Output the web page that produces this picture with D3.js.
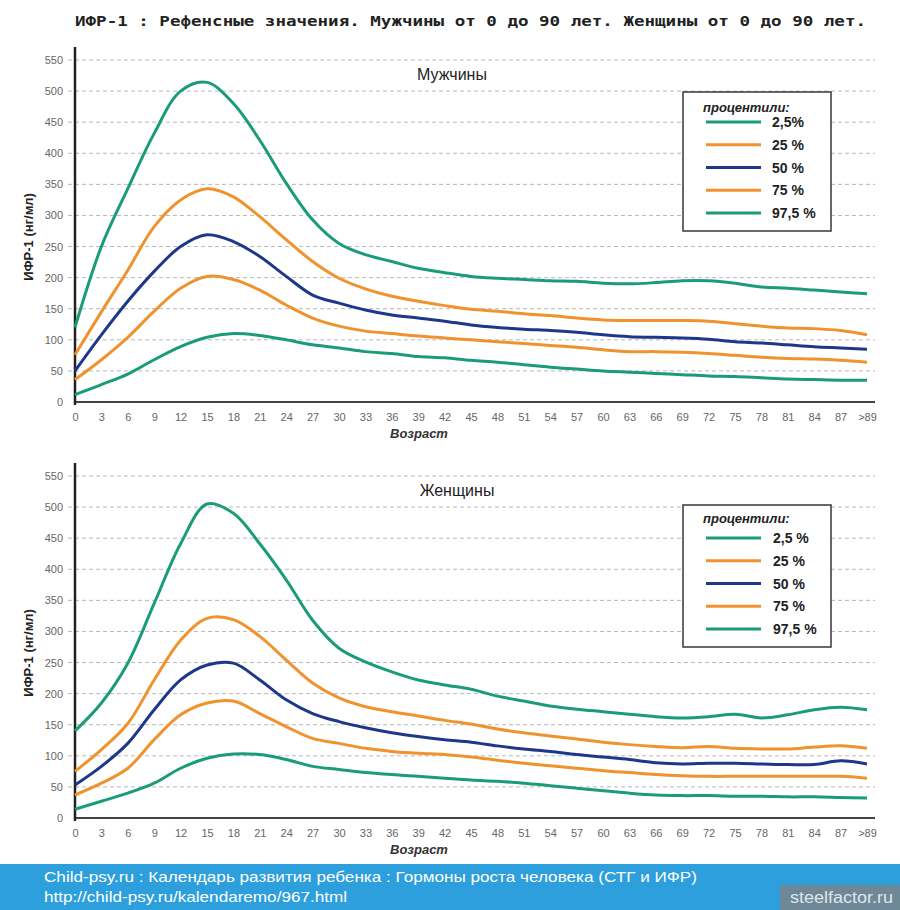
<!DOCTYPE html>
<html>
<head>
<meta charset="utf-8">
<script src="https://cdn.jsdelivr.net/npm/d3@7"></script>
<style>
    body { margin: 0; background: #fff; }
    svg { display: block; }
</style>
</head>
<body>
<div id="chart"></div>
<script>
'use strict';

// ages 0..90 step 3 (last tick is shown as ">89")
const ages = d3.range(0, 91, 3);
const ageTickLabels = ['0', '3', '6', '9', '12', '15', '18', '21', '24', '27', '30', '33', '36', '39', '42', '45',
    '48', '51', '54', '57', '60', '63', '66', '69', '72', '75', '78', '81', '84', '87', '>89'];
const yTicks = [0, 50, 100, 150, 200, 250, 300, 350, 400, 450, 500, 550];

const percentileNames = ['2,5%', '25 %', '50 %', '75 %', '97,5 %'];
const percentileNamesF = ['2,5 %', '25 %', '50 %', '75 %', '97,5 %'];

// Мужчины
const maleP2_5 = [12, 28, 45, 68, 89, 104, 110, 107, 100, 92, 87, 81, 78, 73, 71, 67, 64, 60, 56, 53, 50, 48, 46, 44, 42, 41, 39, 37, 36, 35, 35];
const maleP25 = [36, 68, 104, 146, 183, 202, 197, 180, 156, 135, 122, 114, 110, 106, 103, 100, 97, 94, 91, 88, 84, 81, 81, 80, 78, 75, 72, 70, 69, 67, 64];
const maleP50 = [50, 108, 162, 210, 250, 269, 258, 234, 202, 172, 159, 148, 140, 135, 130, 124, 120, 117, 115, 112, 108, 105, 104, 103, 101, 97, 95, 92, 89, 87, 85];
const maleP75 = [76, 145, 212, 282, 325, 343, 330, 298, 261, 226, 199, 182, 170, 162, 155, 149, 146, 142, 139, 135, 132, 131, 131, 131, 130, 126, 122, 119, 118, 115, 108];
const maleP97_5 = [120, 250, 343, 432, 500, 514, 480, 421, 352, 293, 255, 237, 226, 215, 208, 202, 199, 197, 195, 194, 191, 190, 192, 195, 195, 191, 185, 183, 180, 177, 174];

// Женщины
const femaleP2_5 = [14, 27, 40, 56, 80, 96, 103, 102, 94, 83, 78, 73, 70, 67, 64, 61, 59, 56, 52, 48, 44, 40, 37, 36, 36, 35, 35, 34, 34, 33, 32];
const femaleP25 = [37, 56, 80, 126, 166, 185, 188, 168, 147, 128, 120, 112, 107, 104, 102, 98, 93, 88, 84, 80, 76, 73, 70, 68, 67, 67, 67, 67, 67, 67, 64];
const femaleP50 = [53, 83, 120, 174, 222, 246, 249, 222, 190, 168, 155, 145, 137, 131, 126, 122, 116, 111, 107, 102, 98, 94, 89, 87, 88, 88, 87, 86, 86, 92, 87];
const femaleP75 = [75, 110, 152, 222, 286, 321, 319, 292, 254, 217, 193, 179, 171, 164, 157, 151, 143, 137, 132, 127, 122, 118, 115, 113, 115, 112, 111, 111, 114, 116, 112];
const femaleP97_5 = [140, 185, 249, 345, 441, 505, 490, 441, 383, 318, 273, 251, 235, 222, 214, 207, 196, 188, 180, 175, 171, 167, 163, 161, 163, 167, 161, 166, 174, 178, 174];

const lineColors = ['#1a9c7b', '#f0922e', '#1d388a', '#f0922e', '#1a9c7b'];

const width = 900;
const height = 910;

const svg = d3.select('#chart').append('svg').attr('width', width).attr('height', height)
    .style('font-family', '"Liberation Sans", Arial, sans-serif');

svg.append('text')
    .attr('x', 75).attr('y', 26)
    .attr('textLength', 791).attr('lengthAdjust', 'spacingAndGlyphs')
    .style('font-family', '"DejaVu Sans Mono", "Liberation Mono", monospace')
    .style('font-weight', 'bold').style('font-size', '14px').attr('fill', '#222')
    .text('ИФР-1 : Рефенсные значения. Мужчины от 0 до 90 лет. Женщины от 0 до 90 лет.');

const x = d3.scaleLinear().domain([0, 90]).range([75, 867]);

const drawPanel = function(opt) {
    const y = d3.scaleLinear().domain([0, 550]).range([opt.zero, opt.zero - 342]);
    const g = svg.append('g');

    // dashed grid
    g.selectAll('.grid').data(yTicks.slice(1)).enter().append('line')
        .attr('x1', 68).attr('x2', 875)
        .attr('y1', d => y(d)).attr('y2', d => y(d))
        .attr('stroke', '#b8b8b8').attr('stroke-width', 1).attr('stroke-dasharray', '4,3');

    const yAxis = d3.axisLeft(y).tickValues(yTicks).tickSize(0).tickPadding(0);
    g.append('g').attr('transform', 'translate(63,0)').call(yAxis)
        .call(s => s.select('.domain').remove())
        .selectAll('text').attr('fill', '#666').style('font-size', '11px');

    const xAxis = d3.axisBottom(x).tickValues(ages).tickSize(0).tickPadding(0)
        .tickFormat((d, i) => ageTickLabels[i]);
    g.append('g').attr('transform', `translate(0,${opt.zero + 11})`).call(xAxis)
        .call(s => s.select('.domain').remove())
        .selectAll('text').attr('fill', '#666').style('font-size', '11px');

    // axis lines
    g.append('line').attr('x1', 75).attr('x2', 875).attr('y1', opt.zero).attr('y2', opt.zero)
        .attr('stroke', '#444').attr('stroke-width', 2);
    g.append('line').attr('x1', 75).attr('x2', 75).attr('y1', opt.zero - 355).attr('y2', opt.zero + 3)
        .attr('stroke', '#222').attr('stroke-width', 2.5);

    const line = d3.line().x((d, i) => x(ages[i])).y(d => y(d)).curve(d3.curveCatmullRom.alpha(0.5));
    g.selectAll('.pline').data(opt.series).enter().append('path')
        .attr('d', d => line(d))
        .attr('fill', 'none')
        .attr('stroke', (d, i) => lineColors[i])
        .attr('stroke-width', 3)
        .attr('stroke-linejoin', 'round');

    g.append('text').attr('x', opt.titleX).attr('y', opt.zero - 322).attr('text-anchor', 'middle')
        .style('font-size', '16px').attr('fill', '#222').text(opt.title);

    g.append('text').attr('x', 390).attr('y', opt.zero + 36)
        .style('font-size', '13px').style('font-weight', 'bold').style('font-style', 'italic')
        .attr('fill', '#333').text('Возраст');

    g.append('text').attr('transform', `translate(33,${opt.zero - 165}) rotate(-90)`)
        .attr('text-anchor', 'middle')
        .style('font-size', '13px').style('font-weight', 'bold').attr('fill', '#222')
        .text('ИФР-1 (нг/мл)');

    // legend
    const legend = g.append('g').attr('transform', `translate(683,${opt.legendTop})`);
    legend.append('rect').attr('x', 0).attr('y', 0).attr('width', 148).attr('height', opt.legendH)
        .attr('fill', '#fff').attr('stroke', '#3a3340').attr('stroke-width', 1.5);
    legend.append('text').attr('x', 20).attr('y', opt.legendTitleY)
        .style('font-size', '13px').style('font-weight', 'bold').style('font-style', 'italic')
        .attr('fill', '#222').text('процентили:');
    const item = legend.selectAll('.item').data(opt.names).enter().append('g')
        .attr('transform', (d, i) => `translate(0,${opt.legendLine0 + i * 22.75})`);
    item.append('line').attr('x1', 23).attr('x2', 78).attr('y1', 0).attr('y2', 0)
        .attr('stroke', (d, i) => lineColors[i]).attr('stroke-width', 3);
    item.append('text').attr('x', opt.labelX).attr('y', 5)
        .style('font-size', '14px').style('font-weight', 'bold').attr('fill', '#222')
        .text(d => d);
};

drawPanel({
    zero: 402, title: 'Мужчины', titleX: 452,
    series: [maleP2_5, maleP25, maleP50, maleP75, maleP97_5],
    names: percentileNames,
    legendTop: 92, legendH: 139, legendTitleY: 20, legendLine0: 30, labelX: 89
});

drawPanel({
    zero: 818, title: 'Женщины', titleX: 457,
    series: [femaleP2_5, femaleP25, femaleP50, femaleP75, femaleP97_5],
    names: percentileNamesF,
    legendTop: 505, legendH: 142, legendTitleY: 18, legendLine0: 33, labelX: 90
});

// footer
svg.append('rect').attr('x', 0).attr('y', 864).attr('width', width).attr('height', 46).attr('fill', '#2d9fdc');
svg.append('text').attr('x', 44).attr('y', 882).attr('textLength', 653).attr('lengthAdjust', 'spacingAndGlyphs')
    .style('font-size', '15px').attr('fill', '#fff')
    .text('Child-psy.ru : Календарь развития ребенка : Гормоны роста человека (СТГ и ИФР)');
svg.append('text').attr('x', 44).attr('y', 902).attr('textLength', 303).attr('lengthAdjust', 'spacingAndGlyphs')
    .style('font-size', '15px').attr('fill', '#fff')
    .text('http://child-psy.ru/kalendaremo/967.html');
svg.append('rect').attr('x', 780).attr('y', 885).attr('width', 120).attr('height', 25).attr('fill', '#6f8898');
svg.append('text').attr('x', 790).attr('y', 903).attr('textLength', 103).attr('lengthAdjust', 'spacingAndGlyphs')
    .style('font-size', '16px').attr('fill', '#dfe7ec').text('steelfactor.ru');
</script>
</body>
</html>
